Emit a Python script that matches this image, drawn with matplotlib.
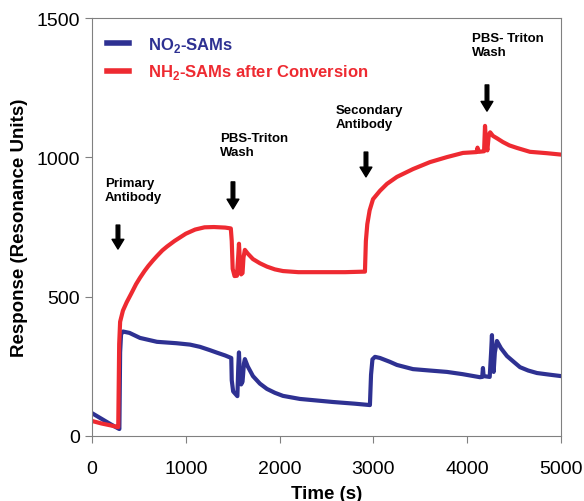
#!/usr/bin/python3

import matplotlib
matplotlib.use("Agg")
import matplotlib.pyplot as plt

plt.rcParams["font.family"] = ["Liberation Sans", "DejaVu Sans"]
plt.rcParams["mathtext.fontset"] = "custom"
plt.rcParams["mathtext.rm"] = "Liberation Sans"
plt.rcParams["mathtext.bf"] = "Liberation Sans:bold"

# NO2-SAMs sensorgram (time s, response RU)
no2_time = [0, 100, 200, 280, 292, 300, 310, 330, 400, 512, 693, 900, 1045,
            1151, 1258, 1333, 1420, 1485, 1490, 1505, 1550, 1560, 1567, 1575,
            1590, 1605, 1620, 1630, 1660, 1716, 1790, 1865, 1950, 2036, 2217,
            2569, 2800, 2963, 2975, 2990, 3017, 3070, 3177, 3251, 3422, 3600,
            3784, 3950, 4136, 4160, 4168, 4175, 4240, 4255, 4264, 4272, 4282,
            4295, 4317, 4360, 4424, 4500, 4563, 4650, 4744, 4880, 5000]
no2_resp = [82, 62, 42, 27, 25, 300, 365, 375, 370, 352, 338, 333, 328,
            320, 308, 299, 289, 280, 200, 160, 143, 250, 300, 230,
            185, 195, 260, 276, 250, 215, 188, 169, 155, 144, 133,
            122, 116, 111, 220, 275, 284, 280, 266, 255, 240, 235,
            230, 222, 211, 212, 244, 215, 212, 300, 362, 250, 230,
            300, 341, 315, 287, 265, 247, 235, 226, 220, 215]

# NH2-SAMs after conversion
nh2_time = [0, 100, 200, 272, 280, 290, 300, 330, 370, 420, 470, 512, 560,
            600, 650, 693, 750, 800, 880, 1000, 1100, 1200, 1300, 1420, 1480,
            1490, 1500, 1520, 1545, 1560, 1567, 1575, 1590, 1605, 1615, 1630,
            1660, 1716, 1790, 1865, 1950, 2036, 2200, 2500, 2700, 2910, 2920,
            2935, 2960, 2996, 3070, 3145, 3251, 3422, 3603, 3784, 3955, 4100,
            4110, 4125, 4180, 4190, 4200, 4215, 4230, 4245, 4275, 4320, 4381,
            4450, 4530, 4669, 4850, 5000]
nh2_resp = [54, 45, 38, 32, 32, 330, 410, 450, 480, 512, 545, 568, 592,
            610, 630, 646, 666, 680, 700, 726, 741, 749, 750, 748, 745,
            700, 600, 574, 575, 650, 690, 640, 580, 585, 640, 668,
            655, 635, 620, 608, 598, 592, 588, 588, 588, 590, 700,
            760, 810, 850, 880, 905, 930, 958, 983, 1001, 1016, 1019,
            1035, 1020, 1022, 1113, 1060, 1025, 1080, 1090, 1077, 1068, 1055,
            1043, 1034, 1020, 1015, 1010]

# injection annotations: label, text anchor, arrow top, arrow tip
event_labels = ["Primary\nAntibody", "PBS-Triton\nWash",
                "Secondary\nAntibody", "PBS- Triton\nWash"]
event_text_xy = [(139, 930), (1364, 1091), (2601, 1192), (4051, 1450)]
event_arrow_x = [277, 1503, 2921, 4211]
event_arrow_top = [757, 912, 1019, 1260]
event_arrow_tip = [671, 815, 930, 1166]

blue = "#2E3192"
red = "#EE2A31"

fig = plt.figure(figsize=(5.84, 5.02), dpi=100)
ax = fig.add_axes([0.1575, 0.1295, 0.8031, 0.8325])

ax.plot(no2_time, no2_resp, color=blue, lw=3, label=r"NO$_\mathbf{2}$-SAMs",
        solid_joinstyle="round")
ax.plot(nh2_time, nh2_resp, color=red, lw=3,
        label=r"NH$_\mathbf{2}$-SAMs after Conversion", solid_joinstyle="round")

for lab, (tx, ty), ax_x, top, tip in zip(event_labels, event_text_xy,
                                         event_arrow_x, event_arrow_top,
                                         event_arrow_tip):
    ax.text(tx, ty, lab, fontsize=9.5, fontweight="bold", ha="left", va="top",
            linespacing=1.25)
    ax.annotate("", xy=(ax_x, tip), xytext=(ax_x, top),
                arrowprops=dict(facecolor="black", edgecolor="black",
                                width=2.6, headwidth=8.5, headlength=7))

ax.set_xlim(0, 5000)
ax.set_ylim(0, 1500)
ax.set_xticks([0, 1000, 2000, 3000, 4000, 5000])
ax.set_yticks([0, 500, 1000, 1500])
ax.tick_params(labelsize=14, direction="out", length=5, color="#808080")
ax.tick_params(axis="x", pad=12)
for s in ax.spines.values():
    s.set_color("#808080")

ax.set_xlabel("Time (s)", fontsize=13.5, fontweight="bold", labelpad=6)
ax.set_ylabel("Response (Resonance Units)", fontsize=13.5, fontweight="bold",
              labelpad=6)

leg = ax.legend(loc="upper left", bbox_to_anchor=(0.0, 0.995), frameon=False,
                handlelength=1.35, handletextpad=1.1, labelspacing=0.5,
                prop=dict(size=12, weight="bold"), labelcolor="linecolor")
for h in leg.get_lines():
    h.set_linewidth(4)

fig.savefig("out.png", dpi=100)
